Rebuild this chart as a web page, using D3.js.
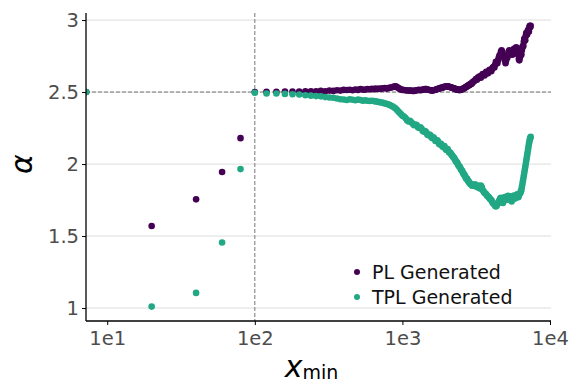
<!DOCTYPE html>
<html>
<head>
<meta charset="utf-8">
<script src="https://cdn.jsdelivr.net/npm/d3@7"></script>
<style>
  body { margin: 0; background: #fff; }
  text { font-family: "DejaVu Sans", sans-serif; }
</style>
</head>
<body>
<div id="chart"></div>
<script>
// xmin values (first one sits on the left edge of the log axis)
const xminA = [7.2, 20, 40, 60, 80, 100, 120, 140, 160, 180, 200,
  220, 240, 260, 280, 300, 320, 340, 360, 380, 400,
  420, 440, 460, 480, 500, 520, 540, 560, 580, 600,
  620, 640, 660, 680, 700, 720, 740, 760, 780, 800,
  820, 840, 860, 880, 900, 920, 940, 960, 980, 1000];
const xminB = [1025, 1050, 1075, 1100, 1125, 1150, 1175, 1200, 1225, 1250,
  1275, 1300, 1325, 1350, 1375, 1400, 1425, 1450, 1475, 1500,
  1525, 1550, 1575, 1600, 1625, 1650, 1675, 1700, 1725, 1750,
  1775, 1800, 1825, 1850, 1875, 1900, 1925, 1950, 1975, 2000,
  2025, 2050, 2075, 2100, 2125, 2150, 2175, 2200, 2225, 2250,
  2275, 2300, 2325, 2350, 2375, 2400, 2425, 2450, 2475, 2500,
  2525, 2550, 2575, 2600, 2625, 2650, 2675, 2700, 2725, 2750,
  2775, 2800, 2825, 2850, 2875, 2900, 2925, 2950, 2975, 3000];
const xminC = [3050, 3100, 3150, 3200, 3250, 3300, 3350, 3400, 3450, 3500,
  3550, 3600, 3650, 3700, 3750, 3800, 3850, 3900, 3950, 4000,
  4050, 4100, 4150, 4200, 4250, 4300, 4350, 4400, 4450, 4500,
  4550, 4600, 4650, 4700, 4750, 4800, 4850, 4900, 4950, 5000,
  5050, 5100, 5150, 5200, 5250, 5300, 5350, 5400, 5450, 5500,
  5550, 5600, 5650, 5700, 5750, 5800, 5850, 5900, 5950, 6000,
  6050, 6100, 6150, 6200, 6250, 6300, 6350, 6400, 6450, 6500,
  6550, 6600, 6650, 6700, 6750, 6800, 6850, 6900, 6950, 7000,
  7050, 7100, 7150, 7200, 7250, 7300, 7350, 7400];
const xmin = xminA.concat(xminB, xminC);

// alpha estimated for power-law generated data
const alphaPL = [2.5, 1.57, 1.755, 1.945, 2.18, 2.5, 2.502, 2.502, 2.503, 2.503, 2.504,
  2.505, 2.505, 2.505, 2.508, 2.506, 2.51, 2.508, 2.512, 2.51, 2.515,
  2.514, 2.516, 2.512, 2.518, 2.515, 2.52, 2.517, 2.516, 2.521, 2.519,
  2.522, 2.52, 2.524, 2.521, 2.525, 2.523, 2.526, 2.528, 2.524, 2.527,
  2.53, 2.532, 2.535, 2.538, 2.54, 2.534, 2.528, 2.522, 2.518, 2.515,
  // 1025 - 3000
  2.514, 2.513, 2.511, 2.51, 2.511, 2.51, 2.507, 2.508, 2.51, 2.512,
  2.514, 2.515, 2.513, 2.514, 2.517, 2.518, 2.52, 2.52, 2.518, 2.516,
  2.514, 2.512, 2.511, 2.51, 2.512, 2.514, 2.516, 2.518, 2.521, 2.523,
  2.525, 2.527, 2.529, 2.53, 2.532, 2.534, 2.536, 2.537, 2.539, 2.54,
  2.539, 2.538, 2.536, 2.535, 2.533, 2.532, 2.53, 2.528, 2.526, 2.525,
  2.522, 2.52, 2.519, 2.518, 2.516, 2.515, 2.514, 2.514, 2.515, 2.517,
  2.518, 2.52, 2.523, 2.525, 2.528, 2.53, 2.533, 2.535, 2.538, 2.54,
  2.543, 2.545, 2.548, 2.55, 2.553, 2.555, 2.558, 2.56, 2.565, 2.57,
  // 3050 - 7400
  2.575, 2.58, 2.59, 2.585, 2.6, 2.605, 2.61, 2.6, 2.615, 2.625,
  2.62, 2.615, 2.63, 2.64, 2.635, 2.63, 2.645, 2.655, 2.65, 2.645,
  2.66, 2.67, 2.675, 2.67, 2.69, 2.71, 2.705, 2.7, 2.72, 2.74,
  2.755, 2.75, 2.78, 2.79, 2.78, 2.76, 2.75, 2.74, 2.72, 2.7,
  2.72, 2.75, 2.74, 2.76, 2.78, 2.79, 2.775, 2.77, 2.78, 2.76,
  2.775, 2.76, 2.79, 2.8, 2.785, 2.77, 2.8, 2.81, 2.795, 2.79,
  2.77, 2.76, 2.73, 2.72, 2.74, 2.75, 2.76, 2.76, 2.79, 2.81,
  2.82, 2.82, 2.85, 2.87, 2.87, 2.86, 2.89, 2.91, 2.9, 2.9,
  2.92, 2.93, 2.92, 2.92, 2.95, 2.96, 2.95, 2.96];

// alpha estimated for truncated power-law generated data
const alphaTPL = [2.5, 1.01, 1.105, 1.455, 1.965, 2.495, 2.49, 2.49, 2.487, 2.485, 2.483,
  2.478, 2.475, 2.472, 2.47, 2.465, 2.462, 2.46, 2.455, 2.45, 2.448,
  2.445, 2.45, 2.447, 2.443, 2.448, 2.445, 2.44, 2.443, 2.44, 2.438,
  2.44, 2.437, 2.435, 2.432, 2.43, 2.427, 2.425, 2.42, 2.418, 2.415,
  2.41, 2.405, 2.4, 2.392, 2.385, 2.375, 2.365, 2.355, 2.345, 2.335,
  // 1025 - 3000
  2.33, 2.32, 2.305, 2.295, 2.3, 2.29, 2.28, 2.27, 2.275, 2.27,
  2.255, 2.25, 2.255, 2.245, 2.23, 2.225, 2.23, 2.22, 2.205, 2.2,
  2.205, 2.2, 2.185, 2.18, 2.185, 2.175, 2.16, 2.16, 2.165, 2.155,
  2.14, 2.135, 2.14, 2.13, 2.12, 2.12, 2.125, 2.11, 2.1, 2.1,
  2.105, 2.09, 2.08, 2.08, 2.075, 2.065, 2.06, 2.05, 2.045, 2.04,
  2.03, 2.02, 2.015, 2.01, 2.0, 1.99, 1.985, 1.98, 1.97, 1.96,
  1.955, 1.95, 1.94, 1.93, 1.925, 1.92, 1.91, 1.9, 1.9, 1.895,
  1.885, 1.88, 1.875, 1.87, 1.865, 1.86, 1.86, 1.855, 1.85, 1.85,
  // 3050 - 7400
  1.855, 1.86, 1.845, 1.84, 1.85, 1.845, 1.83, 1.85, 1.84, 1.82,
  1.81, 1.8, 1.795, 1.79, 1.78, 1.775, 1.77, 1.76, 1.755, 1.75,
  1.74, 1.73, 1.725, 1.72, 1.71, 1.705, 1.71, 1.72, 1.73, 1.74,
  1.75, 1.76, 1.765, 1.75, 1.74, 1.73, 1.745, 1.76, 1.77, 1.77,
  1.76, 1.75, 1.77, 1.78, 1.77, 1.76, 1.775, 1.77, 1.76, 1.74,
  1.755, 1.77, 1.78, 1.78, 1.77, 1.76, 1.775, 1.78, 1.785, 1.79,
  1.78, 1.77, 1.78, 1.79, 1.795, 1.8, 1.81, 1.82, 1.84, 1.86,
  1.88, 1.9, 1.92, 1.94, 1.96, 1.98, 2.0, 2.02, 2.04, 2.06,
  2.08, 2.1, 2.12, 2.14, 2.155, 2.17, 2.18, 2.19];

const yTicks = [1, 1.5, 2, 2.5, 3];
const xTicks = [10, 100, 1000, 10000];
const xTickLabels = ["1e1", "1e2", "1e3", "1e4"];
const seriesNames = ["PL Generated", "TPL Generated"];
const seriesColors = ["#440154", "#22a884"];

const width = 579, height = 392;
const margin = {top: 13, right: 28, bottom: 71, left: 86};
const innerW = width - margin.left - margin.right;
const innerH = height - margin.top - margin.bottom;

const svg = d3.select("#chart").append("svg")
  .attr("width", width)
  .attr("height", height);

const x = d3.scaleLog().domain([7.18, 10160]).range([0, innerW]);
const y = d3.scaleLinear().domain([0.91, 3.049]).range([innerH, 0]);

const g = svg.append("g").attr("transform", `translate(${margin.left},${margin.top})`);

svg.append("defs").append("clipPath").attr("id", "plot-clip")
  .append("rect").attr("width", innerW).attr("height", innerH);

// horizontal grid
g.append("g")
  .selectAll("line")
  .data(yTicks)
  .enter().append("line")
    .attr("x1", 0).attr("x2", innerW)
    .attr("y1", d => y(d)).attr("y2", d => y(d))
    .style("stroke", "#dddddd")
    .style("stroke-width", 1);

// reference lines at alpha = 2.5 and xmin = 100
g.append("line")
  .attr("x1", 0).attr("x2", innerW)
  .attr("y1", y(2.5)).attr("y2", y(2.5))
  .style("stroke", "#777")
  .style("stroke-width", 1)
  .style("stroke-dasharray", "4,2");
g.append("line")
  .attr("x1", x(100)).attr("x2", x(100))
  .attr("y1", 0).attr("y2", innerH)
  .style("stroke", "#777")
  .style("stroke-width", 1)
  .style("stroke-dasharray", "4,2");

// points
const pts = g.append("g").attr("clip-path", "url(#plot-clip)");
[alphaPL, alphaTPL].forEach((vals, i) => {
  pts.append("g")
    .selectAll("circle")
    .data(vals)
    .enter().append("circle")
      .attr("cx", (d, j) => x(xmin[j]))
      .attr("cy", d => y(d))
      .attr("r", 3.3)
      .attr("fill", seriesColors[i]);
});

// axes
const yAxis = g.append("g")
  .call(d3.axisLeft(y).tickValues(yTicks).tickSize(4).tickPadding(3).tickFormat(d3.format("")));
const xAxis = g.append("g")
  .attr("transform", `translate(0,${innerH})`)
  .call(d3.axisBottom(x).tickValues(xTicks).tickSize(4).tickPadding(6)
    .tickFormat((d, i) => xTickLabels[i]));

[yAxis, xAxis].forEach(a => {
  a.select(".domain").style("stroke", "#000").style("stroke-width", 1.3);
  a.selectAll(".tick line").style("stroke", "#000");
  a.selectAll(".tick text")
    .style("font-family", "DejaVu Sans, sans-serif")
    .style("font-size", "19.5px")
    .style("fill", "#4d4d4d");
});
// remove outer tick ends of the domain path
yAxis.select(".domain").attr("d", `M0,0V${innerH}`);
xAxis.select(".domain").attr("d", `M0,0H${innerW}`);

// axis titles
svg.append("text")
  .attr("transform", `translate(32,${margin.top + y(2.0)}) rotate(-90)`)
  .attr("text-anchor", "middle")
  .style("font-size", "30px")
  .style("font-style", "italic")
  .style("fill", "#000")
  .text("α");

const xl = svg.append("text")
  .attr("x", margin.left + innerW / 2 - 7)
  .attr("y", 377)
  .attr("text-anchor", "middle")
  .style("fill", "#000");
xl.append("tspan").style("font-size", "30px").style("font-style", "italic").text("x");
xl.append("tspan").style("font-size", "19px").attr("dy", 2).text("min");

// legend
const legend = svg.append("g").attr("transform", "translate(357,272)");
seriesNames.forEach((name, i) => {
  const row = legend.append("g").attr("transform", `translate(0,${i * 25})`);
  row.append("circle").attr("r", 3).attr("fill", seriesColors[i]);
  row.append("text")
    .attr("x", 15).attr("y", 6.5)
    .style("font-size", "19px")
    .style("fill", "#111")
    .text(name);
});
</script>
</body>
</html>
